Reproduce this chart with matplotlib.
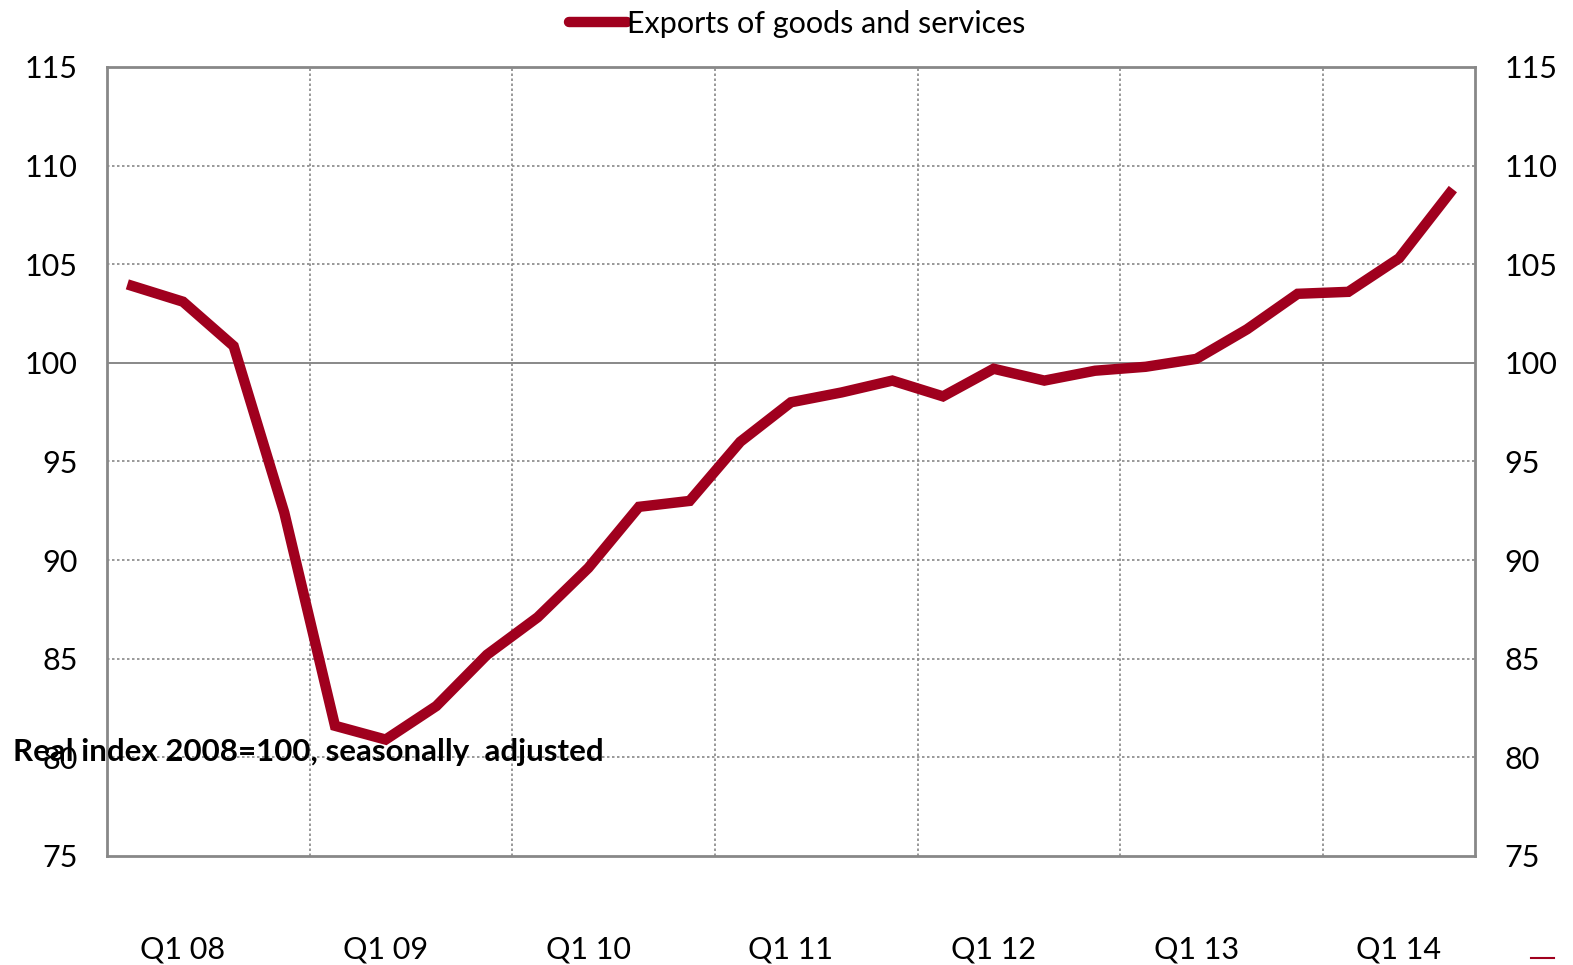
import matplotlib
matplotlib.use('Agg')
import matplotlib.pyplot as plt
from matplotlib.lines import Line2D

# data: quarterly export index, Q4 07 .. Q2 14
quarters = ['Q4 07',
            'Q1 08', 'Q2 08', 'Q3 08', 'Q4 08',
            'Q1 09', 'Q2 09', 'Q3 09', 'Q4 09',
            'Q1 10', 'Q2 10', 'Q3 10', 'Q4 10',
            'Q1 11', 'Q2 11', 'Q3 11', 'Q4 11',
            'Q1 12', 'Q2 12', 'Q3 12', 'Q4 12',
            'Q1 13', 'Q2 13', 'Q3 13', 'Q4 13',
            'Q1 14', 'Q2 14']
exports = [103.9,
           103.1, 100.85, 92.4, 81.6,
           80.9, 82.6, 85.2, 87.1,
           89.6, 92.7, 93.0, 96.0,
           98.0, 98.5, 99.1, 98.3,
           99.7, 99.1, 99.6, 99.8,
           100.2, 101.7, 103.5, 103.6,
           105.3, 108.6]
y_ticks = [75, 80, 85, 90, 95, 100, 105, 110, 115]

plt.rcParams['font.family'] = ['Lato', 'DejaVu Sans']
line_col = '#A0001E'
grid_col = '#888888'

fig = plt.figure(figsize=(15.73, 9.65), dpi=100)
ax = fig.add_axes([0.068, 0.113, 0.8697, 0.8176])

x = list(range(len(quarters)))
ax.plot(x, exports, color=line_col, lw=7.5, solid_joinstyle='miter',
        label='Exports of goods and services', zorder=3)

ax.set_xlim(-0.5, len(quarters) - 0.5)
ax.set_ylim(75, 115)
ax.set_yticks(y_ticks)
ax.tick_params(axis='y', length=0, labelsize=22, pad=21,
               labelleft=True, labelright=True)

# labels on every Q1, gridlines between Q3 and Q4
lab_pos = [i for i, q in enumerate(quarters) if q.startswith('Q1')]
ax.set_xticks(lab_pos)
ax.set_xticklabels([quarters[i] for i in lab_pos], fontsize=22)
ax.tick_params(axis='x', length=0, pad=57)
for i in lab_pos[:-1]:
    ax.axvline(i + 2.5, color=grid_col, lw=1.2, ls=(0, (1.5, 1.5)), zorder=1)
for v in y_ticks[1:-1]:
    if v == 100:
        ax.axhline(v, color=grid_col, lw=1.4, zorder=1)
    else:
        ax.axhline(v, color=grid_col, lw=1.2, ls=(0, (1.5, 1.5)), zorder=1)

for s in ax.spines.values():
    s.set_color(grid_col)
    s.set_linewidth(2)

ax.text(0.008, 0.221, 'Real index 2008=100, seasonally  adjusted',
        transform=fig.transFigure, fontsize=22.5, fontweight='bold',
        ha='left', va='center', zorder=5)

handle = Line2D([], [], color=line_col, lw=7.5, solid_capstyle='round')
fig.legend([handle], ['Exports of goods and services'], loc='center',
           bbox_to_anchor=(0.507, 0.975), frameon=False, fontsize=22,
           handlelength=1.9, handletextpad=0.0)

# small stray mark at bottom right
fig.add_artist(Line2D([0.973, 0.988], [0.007, 0.007], color=line_col, lw=1.5))

fig.savefig('out.png', dpi=100)
